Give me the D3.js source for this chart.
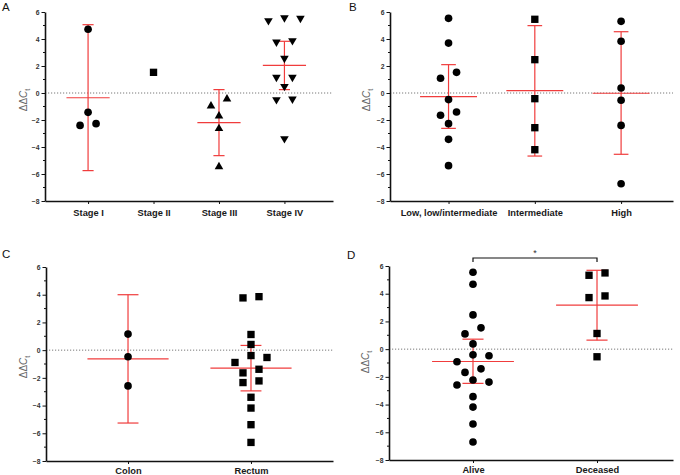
<!DOCTYPE html>
<html>
<head>
<meta charset="utf-8">
<script src="https://cdn.jsdelivr.net/npm/d3@7"></script>
<style>
  body { margin: 0; background: #fff; }
  svg { display: block; font-family: "Liberation Sans", Arial, sans-serif; }
</style>
</head>
<body>
<svg id="chart" width="680" height="475"></svg>
<script>
// Shared y ticks
const yTicks = [-8, -6, -4, -2, 0, 2, 4, 6];
const yMinor = [-7, -5, -3, -1, 1, 3, 5];

// Panel A - tumour stage
const catA = ["Stage I", "Stage II", "Stage III", "Stage IV"];
const valsA = [
  [4.72, -1.43, -2.40, -2.27],
  [1.53],
  [-0.44, -0.96, -1.70, -2.64, -5.46],
  [5.58, 5.53, 5.36, 3.88, 3.78, 2.57, 1.16, 1.16, 0.49, -0.44, -0.49, -3.38]
];
const meanA = [-0.35, null, -2.20, 2.05];
const lowA = [-5.75, null, -4.64, 0.25];
const highA = [5.06, null, 0.25, 3.83];
const shapeA = ["circle", "square", "triangle", "triangleDown"];

// Panel B - risk group
const catB = ["Low, low/intermediate", "Intermediate", "High"];
const valsB = [
  [5.53, 3.70, 1.53, 1.09, -0.49, -1.41, -1.65, -2.27, -3.43, -5.38],
  [5.46, 2.47, -0.42, -2.57, -4.20],
  [5.31, 3.83, 0.37, -0.54, -2.40, -6.72]
];
const meanB = [-0.27, 0.17, -0.02];
const lowB = [-2.62, -4.67, -4.54];
const highB = [2.10, 4.99, 4.54];
const shapeB = ["circle", "square", "circle"];

// Panel C - location
const catC = ["Colon", "Rectum"];
const valsC = [
  [1.16, -0.48, -2.58],
  [3.86, 3.77, 1.13, 0.41, -0.39, -0.53, -0.89, -1.38, -1.64, -2.22, -2.34, -3.40, -4.18, -5.38, -6.66]
];
const meanC = [-0.63, -1.30];
const lowC = [-5.26, -2.94];
const highC = [4.00, 0.34];
const shapeC = ["circle", "square"];

// Panel D - survival
const catD = ["Alive", "Deceased"];
const valsD = [
  [5.55, 4.68, 2.47, 1.54, 1.10, 0.38, -0.41, -0.48, -0.91, -1.42, -1.68, -2.23, -2.38, -2.59, -3.43, -4.18, -5.40, -6.70],
  [5.50, 5.33, 3.84, 3.72, 1.13, -0.55]
];
const meanD = [-0.89, 3.17];
const lowD = [-2.47, 0.65];
const highD = [0.72, 5.69];
const shapeD = ["circle", "square"];

const RED = "#f03c3c";

const panels = [
  { letter: "A", lx: 2, ly: 11, x0: 45, x1: 333, yTop: 12, yBot: 201, pad: 0.70, align: 0.47, labY: 100, labX: 27, tp: 5,
    cats: catA, vals: valsA, mean: meanA, low: lowA, high: highA, shape: shapeA },
  { letter: "B", lx: 349, ly: 11, x0: 390, x1: 673, yTop: 12, yBot: 201, pad: 0.64, align: 0.53, labY: 100, labX: 370, tp: 5,
    cats: catB, vals: valsB, mean: meanB, low: lowB, high: highB, shape: shapeB },
  { letter: "C", lx: 2, ly: 258, x0: 46, x1: 333, yTop: 267, yBot: 461, pad: 0.667, align: 0.5, labY: 367, labX: 27, tp: 3,
    cats: catC, vals: valsC, mean: meanC, low: lowC, high: highC, shape: shapeC },
  { letter: "D", lx: 347, ly: 259, x0: 389, x1: 673, yTop: 266, yBot: 460, pad: 0.645, align: 0.525, labY: 362, labX: 369, tp: 3,
    cats: catD, vals: valsD, mean: meanD, low: lowD, high: highD, shape: shapeD, bracket: true }
];

const svg = d3.select("#chart");

// Group close values into rows and spread each row symmetrically
function swarm(values, thresh) {
  const idx = values.map((v, i) => i).sort((a, b) => values[b] - values[a]);
  const rows = [];
  let cur = null;
  idx.forEach(i => {
    if (cur && values[cur[0]] - values[i] <= thresh) cur.push(i);
    else { cur = [i]; rows.push(cur); }
  });
  const off = new Array(values.length).fill(0);
  rows.forEach(row => {
    const n = row.length;
    const slots = d3.range(n).map(j => j - (n - 1) / 2)
      .sort((a, b) => Math.abs(a) - Math.abs(b) || b - a);
    row.forEach((i, k) => { off[i] = slots[k]; });
  });
  return off;
}

function symbolPath(shape) {
  if (shape === "circle") return d3.symbol(d3.symbolCircle, 46)();
  if (shape === "square") return d3.symbol(d3.symbolSquare, 54)();
  return d3.symbol(d3.symbolTriangle, 32)();
}

panels.forEach(p => {
  const g = svg.append("g");
  const y = d3.scaleLinear().domain([-8, 6]).range([p.yBot, p.yTop]);
  const x = d3.scalePoint().domain(p.cats).range([p.x0, p.x1]).padding(p.pad).align(p.align);
  const step = x.step();

  // panel letter
  g.append("text").attr("x", p.lx).attr("y", p.ly)
    .attr("font-size", 11.5).attr("fill", "#111").text(p.letter);

  // zero reference line
  g.append("line")
    .attr("x1", p.x0).attr("x2", p.x1).attr("y1", y(0)).attr("y2", y(0))
    .attr("stroke", "#555").attr("stroke-width", 0.8).attr("stroke-dasharray", "1.2,1.8");

  // y axis
  const yAxis = g.append("g").attr("transform", `translate(${p.x0},0)`)
    .call(d3.axisLeft(y).tickValues(yTicks).tickSize(3.5).tickPadding(2).tickSizeOuter(0));
  yAxis.select(".domain").attr("stroke", "#111").attr("stroke-width", 1.6);
  yAxis.selectAll(".tick line").attr("stroke", "#111").attr("stroke-width", 1);
  yAxis.selectAll(".tick text").attr("font-size", 6.8).attr("font-weight", "bold")
    .attr("fill", "#333").attr("font-family", "Liberation Sans, Arial, sans-serif");
  g.selectAll(".minor").data(yMinor).enter().append("line")
    .attr("x1", p.x0 - 2).attr("x2", p.x0).attr("y1", d => y(d)).attr("y2", d => y(d))
    .attr("stroke", "#111").attr("stroke-width", 1);

  // x axis
  const xAxis = g.append("g").attr("transform", `translate(0,${p.yBot})`)
    .call(d3.axisBottom(x).tickSize(3).tickPadding(p.tp).tickSizeOuter(0));
  xAxis.select(".domain").attr("stroke", "#111").attr("stroke-width", 1.6);
  xAxis.selectAll(".tick line").attr("stroke", "#111").attr("stroke-width", 1);
  xAxis.selectAll(".tick text").attr("font-size", 9.3).attr("font-weight", "bold")
    .attr("fill", "#1a1a1a").attr("font-family", "Liberation Sans, Arial, sans-serif");

  // y axis label
  const lab = g.append("text")
    .attr("transform", `translate(${p.labX},${p.labY}) rotate(-90)`)
    .attr("text-anchor", "middle")
    .attr("font-size", 10).attr("fill", "#666");
  lab.append("tspan").text("ΔΔ");
  lab.append("tspan").attr("font-style", "italic").text("C");
  lab.append("tspan").attr("font-size", 7).attr("dy", 2.5).text("t");

  // error bars and means
  p.cats.forEach((c, i) => {
    if (p.mean[i] == null) return;
    const cx = x(c);
    const capW = step * 0.085, meanW = step * 0.33;
    const eg = g.append("g").attr("stroke", RED).attr("stroke-width", 1.2);
    eg.append("line").attr("x1", cx).attr("x2", cx).attr("y1", y(p.low[i])).attr("y2", y(p.high[i]));
    eg.append("line").attr("x1", cx - capW).attr("x2", cx + capW).attr("y1", y(p.low[i])).attr("y2", y(p.low[i]));
    eg.append("line").attr("x1", cx - capW).attr("x2", cx + capW).attr("y1", y(p.high[i])).attr("y2", y(p.high[i]));
    eg.append("line").attr("x1", cx - meanW).attr("x2", cx + meanW).attr("y1", y(p.mean[i])).attr("y2", y(p.mean[i]));
  });

  // data points
  p.cats.forEach((c, i) => {
    const vals = p.vals[i];
    const off = swarm(vals, 0.53);
    const shape = p.shape[i];
    g.append("g").selectAll("path").data(vals).enter().append("path")
      .attr("d", symbolPath(shape))
      .attr("fill", "#000")
      .attr("transform", (d, k) => `translate(${x(c) + off[k] * 16},${y(d)})` + (shape === "triangleDown" ? " rotate(180)" : ""));
  });

  // significance bracket
  if (p.bracket) {
    const bx0 = x(p.cats[0]), bx1 = x(p.cats[1]), by = p.yTop - 8;
    g.append("path")
      .attr("d", `M${bx0},${by + 4}V${by}H${bx1}V${by + 4}`)
      .attr("fill", "none").attr("stroke", "#111").attr("stroke-width", 1.2);
    g.append("text").attr("x", (bx0 + bx1) / 2).attr("y", by - 2)
      .attr("text-anchor", "middle").attr("font-size", 9).attr("fill", "#333").text("*");
  }
});
</script>
</body>
</html>
